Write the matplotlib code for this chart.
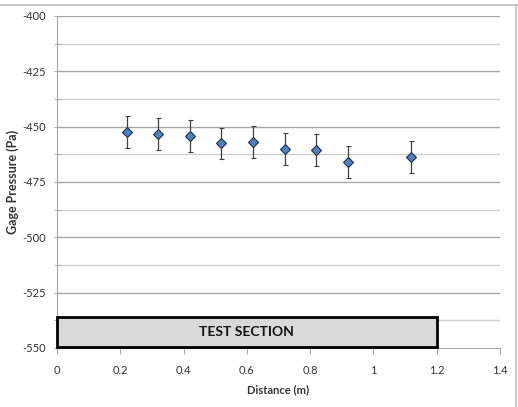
import matplotlib
matplotlib.use("Agg")
import matplotlib.pyplot as plt
from matplotlib.patches import Rectangle
from matplotlib.lines import Line2D

distance = [0.22, 0.32, 0.42, 0.52, 0.62, 0.72, 0.82, 0.92, 1.12]
pressure = [-452.6, -453.5, -454.2, -457.6, -456.9, -460.0, -460.5, -466.0, -463.6]
err = [7.2, 7.2, 7.2, 7.2, 7.2, 7.2, 7.2, 7.2, 7.2]
xticks = [0, 0.2, 0.4, 0.6, 0.8, 1, 1.2, 1.4]
xticklabels = ["0", "0.2", "0.4", "0.6", "0.8", "1", "1.2", "1.4"]
yticks = [-550, -525, -500, -475, -450, -425, -400]
section_x = [0, 1.2]
section_y = [-549.5, -536]
section_label = "TEST SECTION"

plt.rcParams['font.family'] = ['Lato', 'DejaVu Sans']
plt.rcParams['axes.unicode_minus'] = False

fig = plt.figure(figsize=(5.18, 4.07), dpi=100)
ax = fig.add_axes([0.110, 0.145, 0.855, 0.8157])

ax.set_xlim(0, 1.4)
ax.set_ylim(-550, -400)

minor = [y + 12.5 for y in yticks[:-1]]
for y in yticks[1:]:
    ax.axhline(y, color='#a6a6a6', lw=1.0, zorder=0)
for y in minor:
    ax.axhline(y, color='#d0d0d0', lw=1.0, zorder=0)

ax.errorbar(distance, pressure, yerr=err, fmt='D', ms=5.5,
            mfc='#4f81bd', mec='#1f2f4f', mew=0.8,
            ecolor='#404040', elinewidth=0.9, capsize=1.8, capthick=0.9, zorder=3)

rect = Rectangle((section_x[0], section_y[0]), section_x[1] - section_x[0],
                 section_y[1] - section_y[0], facecolor='#d9d9d9',
                 edgecolor='black', lw=2, zorder=4, clip_on=False)
ax.add_patch(rect)
ax.text((section_x[0] + section_x[1]) / 2, (section_y[0] + section_y[1]) / 2,
        section_label, ha='center', va='center', fontsize=10, fontweight='bold',
        color='#111111', zorder=5)

ax.set_xticks(xticks)
ax.set_xticklabels(xticklabels)
ax.set_yticks(yticks)
ax.set_yticks(minor, minor=True)
ax.tick_params(axis='both', which='both', colors='#a6a6a6', labelcolor='#333333',
               labelsize=8, direction='out')
ax.tick_params(axis='y', which='both', length=4, direction='inout')
ax.tick_params(axis='y', pad=6)
ax.tick_params(axis='x', length=4, pad=8)

for s in ['top', 'right']:
    ax.spines[s].set_visible(False)
for s in ['left', 'bottom']:
    ax.spines[s].set_color('#a6a6a6')

ax.set_xlabel('Distance (m)', fontsize=8, fontweight='bold', color='#333333', labelpad=6)
ax.set_ylabel('Gage Pressure (Pa)', fontsize=9, fontweight='bold', color='#333333', labelpad=2)

fig.add_artist(Line2D([0, 1], [1 - 5/407, 1 - 5/407], color='#bfbfbf', lw=1.2, transform=fig.transFigure))
fig.add_artist(Line2D([1 - 2/518, 1 - 2/518], [0, 1 - 5/407], color='#bfbfbf', lw=1.2, transform=fig.transFigure))

fig.savefig('out.png', dpi=100)
